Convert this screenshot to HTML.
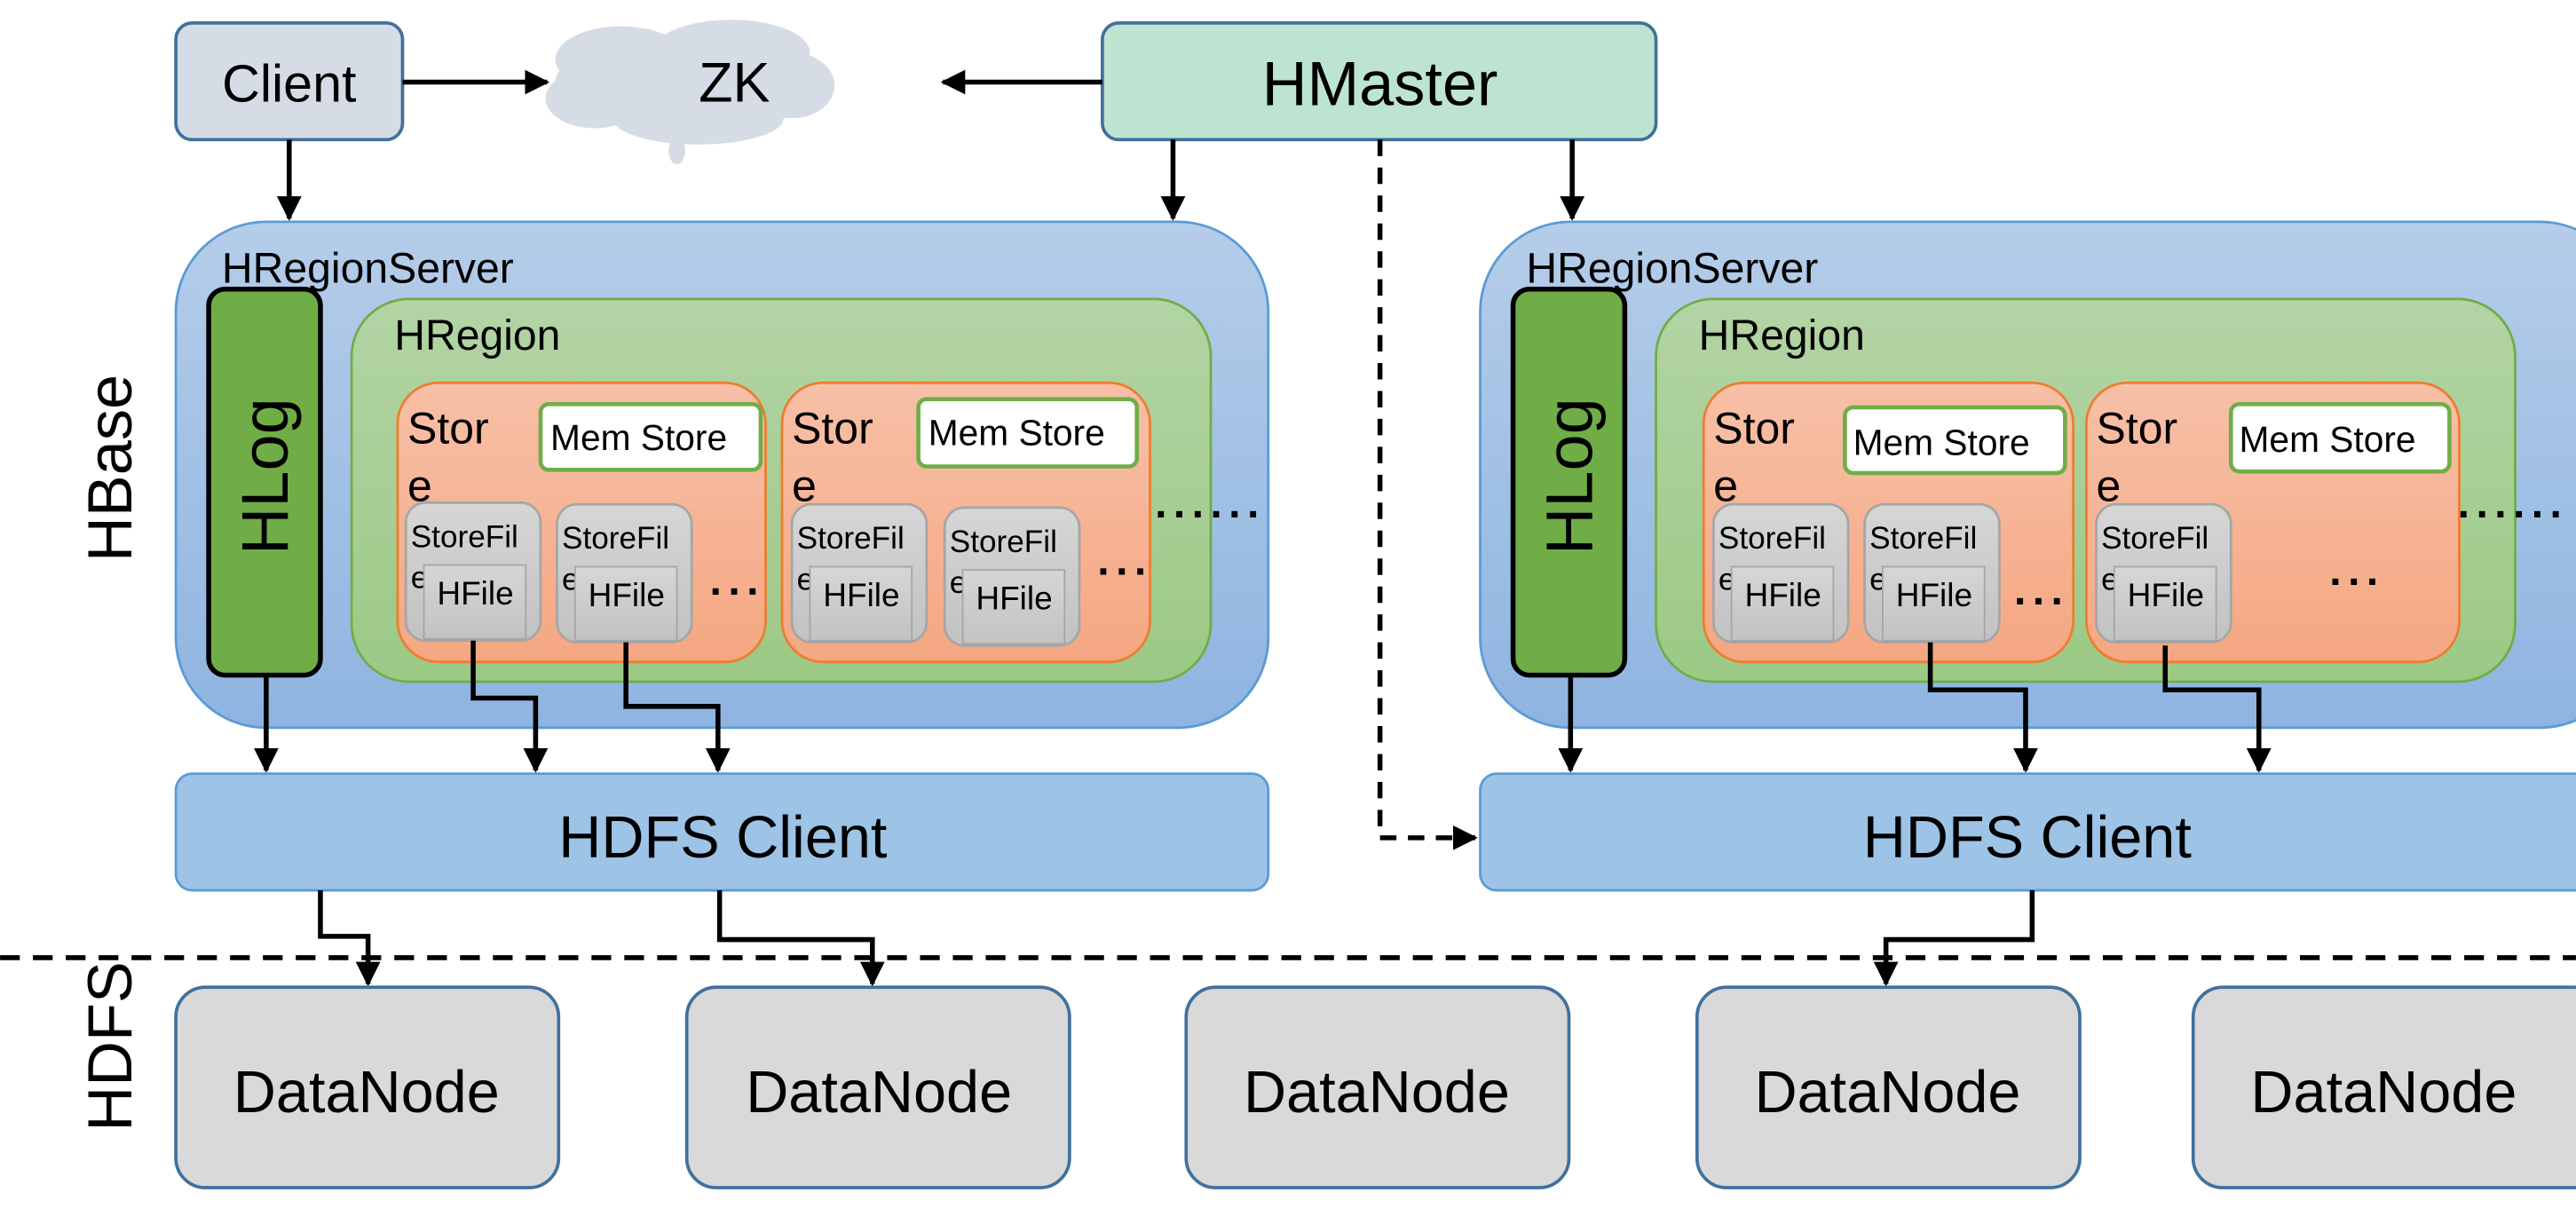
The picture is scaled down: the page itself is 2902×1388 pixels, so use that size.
<!DOCTYPE html>
<html><head><meta charset="utf-8"><style>html,body{margin:0;padding:0;background:#fff}svg{display:block}text{font-family:"Liberation Sans",sans-serif;fill:#000}</style></head>
<body>
<svg width="2902" height="1388" viewBox="0 0 1568 750" xmlns="http://www.w3.org/2000/svg">
<defs>
<linearGradient id="gb" x1="0" y1="0" x2="0" y2="1"><stop offset="0" stop-color="#b5cde9"/><stop offset="1" stop-color="#8fb4e1"/></linearGradient>
<linearGradient id="gg" x1="0" y1="0" x2="0" y2="1"><stop offset="0" stop-color="#b3d4a5"/><stop offset="1" stop-color="#9cc985"/></linearGradient>
<linearGradient id="go" x1="0" y1="0" x2="0" y2="1"><stop offset="0" stop-color="#f7c0a7"/><stop offset="1" stop-color="#f5a782"/></linearGradient>
<linearGradient id="gs" x1="0" y1="0" x2="0" y2="1"><stop offset="0" stop-color="#d6d6d6"/><stop offset="1" stop-color="#c2c2c2"/></linearGradient>
<marker id="ar" viewBox="0 0 10 10" refX="9" refY="5" markerWidth="5" markerHeight="5" orient="auto"><path d="M0,0L10,5L0,10z" fill="#000"/></marker>
</defs>
<rect x="107" y="14" width="138" height="71" rx="10" fill="#d6dce5" stroke="#41719c" stroke-width="2"/>
<text x="176" y="62" font-size="32" text-anchor="middle">Client</text>
<g fill="#d6dce5">
<ellipse cx="418" cy="50" rx="80" ry="28"/><ellipse cx="378" cy="36" rx="40" ry="20"/><ellipse cx="445" cy="32" rx="48" ry="20"/><ellipse cx="482" cy="52" rx="26" ry="20"/><ellipse cx="362" cy="60" rx="30" ry="18"/><ellipse cx="425" cy="72" rx="52" ry="16"/><ellipse cx="412" cy="92" rx="5" ry="8"/>
</g>
<text x="447" y="62" font-size="34" text-anchor="middle">ZK</text>
<rect x="671" y="14" width="337" height="71" rx="10" fill="#bde4d0" stroke="#41719c" stroke-width="2"/>
<text x="840" y="64" font-size="38" text-anchor="middle">HMaster</text>
<g stroke="#000" stroke-width="3" fill="none">
<line x1="245" y1="50" x2="333" y2="50" marker-end="url(#ar)"/>
<line x1="671" y1="50" x2="574" y2="50" marker-end="url(#ar)"/>
<line x1="176" y1="85" x2="176" y2="133" marker-end="url(#ar)"/>
<line x1="714" y1="85" x2="714" y2="133" marker-end="url(#ar)"/>
<line x1="957" y1="85" x2="957" y2="133" marker-end="url(#ar)"/>
<path d="M840,85V510H898" stroke-dasharray="10,7" marker-end="url(#ar)"/>
</g>
<text transform="translate(80,285) rotate(-90)" font-size="38" text-anchor="middle">HBase</text>
<text transform="translate(80,637) rotate(-90)" font-size="38" text-anchor="middle">HDFS</text>
<line x1="0" y1="583" x2="1568" y2="583" stroke="#000" stroke-width="3" stroke-dasharray="12,8"/>

<g>
<rect x="107" y="135" width="665" height="308" rx="55" fill="url(#gb)" stroke="#5b9bd5" stroke-width="1.5"/>
<text x="135" y="172" font-size="26">HRegionServer</text>
<rect x="127" y="176" width="68" height="235" rx="10" fill="#70ad47" stroke="#000" stroke-width="3"/>
<text transform="translate(175,290) rotate(-90)" font-size="40" text-anchor="middle">HLog</text>
<rect x="214" y="182" width="523" height="233" rx="35" fill="url(#gg)" stroke="#70ad47" stroke-width="1.5"/>
<text x="240" y="213" font-size="26">HRegion</text>
</g>
<g transform="translate(794,0)">
<rect x="107" y="135" width="700" height="308" rx="55" fill="url(#gb)" stroke="#5b9bd5" stroke-width="1.5"/>
<text x="135" y="172" font-size="26">HRegionServer</text>
<rect x="127" y="176" width="68" height="235" rx="10" fill="#70ad47" stroke="#000" stroke-width="3"/>
<text transform="translate(175,290) rotate(-90)" font-size="40" text-anchor="middle">HLog</text>
<rect x="214" y="182" width="523" height="233" rx="35" fill="url(#gg)" stroke="#70ad47" stroke-width="1.5"/>
<text x="240" y="213" font-size="26">HRegion</text>
</g>

<g font-size="19">
<rect x="242" y="233" width="224" height="170" rx="25" fill="url(#go)" stroke="#ed7d31" stroke-width="1.5"/>
<rect x="476" y="233" width="224" height="170" rx="25" fill="url(#go)" stroke="#ed7d31" stroke-width="1.5"/>
<rect x="1037" y="233" width="225" height="170" rx="25" fill="url(#go)" stroke="#ed7d31" stroke-width="1.5"/>
<rect x="1270" y="233" width="227" height="170" rx="25" fill="url(#go)" stroke="#ed7d31" stroke-width="1.5"/>
<g font-size="27">
<text x="248" y="270">Stor</text><text x="248" y="305">e</text>
<text x="482" y="270">Stor</text><text x="482" y="305">e</text>
<text x="1043" y="270">Stor</text><text x="1043" y="305">e</text>
<text x="1276" y="270">Stor</text><text x="1276" y="305">e</text>
</g>
<g fill="#fff" stroke="#70ad47" stroke-width="2.5">
<rect x="329" y="246" width="134" height="40" rx="5"/>
<rect x="559" y="243" width="133" height="41" rx="5"/>
<rect x="1123" y="248" width="134" height="40" rx="5"/>
<rect x="1358" y="246" width="133" height="41" rx="5"/>
</g>
<g font-size="22">
<text x="335" y="274">Mem Store</text>
<text x="565" y="271">Mem Store</text>
<text x="1128" y="277">Mem Store</text>
<text x="1363" y="275">Mem Store</text>
</g>
<g id="sf">
<rect x="247" y="306" width="82" height="84" rx="12" fill="url(#gs)" stroke="#a6a6a6" stroke-width="1.5"/>
<text x="250" y="333">StoreFil</text><text x="250" y="358">e</text>
<rect x="258" y="344" width="62" height="45" fill="url(#gs)" stroke="#a6a6a6"/>
<text x="266" y="368" font-size="20">HFile</text>
</g>
<use href="#sf" x="92" y="1"/>
<use href="#sf" x="235" y="1"/>
<use href="#sf" x="328" y="3"/>
<use href="#sf" x="796" y="1"/>
<use href="#sf" x="888" y="1"/>
<use href="#sf" x="1029" y="1"/>
<g font-size="26" font-weight="bold" letter-spacing="4">
<text x="432" y="362">...</text>
<text x="668" y="350">...</text>
<text x="1226" y="368">...</text>
<text x="1418" y="356">...</text>
<text x="703" y="315">......</text>
<text x="1496" y="315">......</text>
</g>
</g>

<g stroke="#000" stroke-width="3" fill="none">
<line x1="162" y1="411" x2="162" y2="469" marker-end="url(#ar)"/>
<path d="M288,390V425H326V469" marker-end="url(#ar)"/>
<path d="M381,391V430H437V469" marker-end="url(#ar)"/>
<line x1="956" y1="411" x2="956" y2="469" marker-end="url(#ar)"/>
<path d="M1175,391V420H1233V469" marker-end="url(#ar)"/>
<path d="M1318,393V420H1375V469" marker-end="url(#ar)"/>
</g>
<rect x="107" y="471" width="665" height="71" rx="10" fill="#9dc3e6" stroke="#5b9bd5" stroke-width="1.5"/>
<text x="440" y="522" font-size="36" text-anchor="middle">HDFS Client</text>
<rect x="901" y="471" width="680" height="71" rx="10" fill="#9dc3e6" stroke="#5b9bd5" stroke-width="1.5"/>
<text x="1234" y="522" font-size="36" text-anchor="middle">HDFS Client</text>
<g stroke="#000" stroke-width="3" fill="none">
<path d="M195,542V570H224V599" marker-end="url(#ar)"/>
<path d="M438,542V572H531V599" marker-end="url(#ar)"/>
<path d="M1237,542V572H1148V599" marker-end="url(#ar)"/>
</g>
<g fill="#d9d9d9" stroke="#41719c" stroke-width="2">
<rect x="107" y="601" width="233" height="122" rx="18"/>
<rect x="418" y="601" width="233" height="122" rx="18"/>
<rect x="722" y="601" width="233" height="122" rx="18"/>
<rect x="1033" y="601" width="233" height="122" rx="18"/>
<rect x="1335" y="601" width="250" height="122" rx="18"/>
</g>
<g font-size="36" text-anchor="middle">
<text x="223" y="677">DataNode</text>
<text x="535" y="677">DataNode</text>
<text x="838" y="677">DataNode</text>
<text x="1149" y="677">DataNode</text>
<text x="1451" y="677">DataNode</text>
</g>
</svg>
</body></html>
